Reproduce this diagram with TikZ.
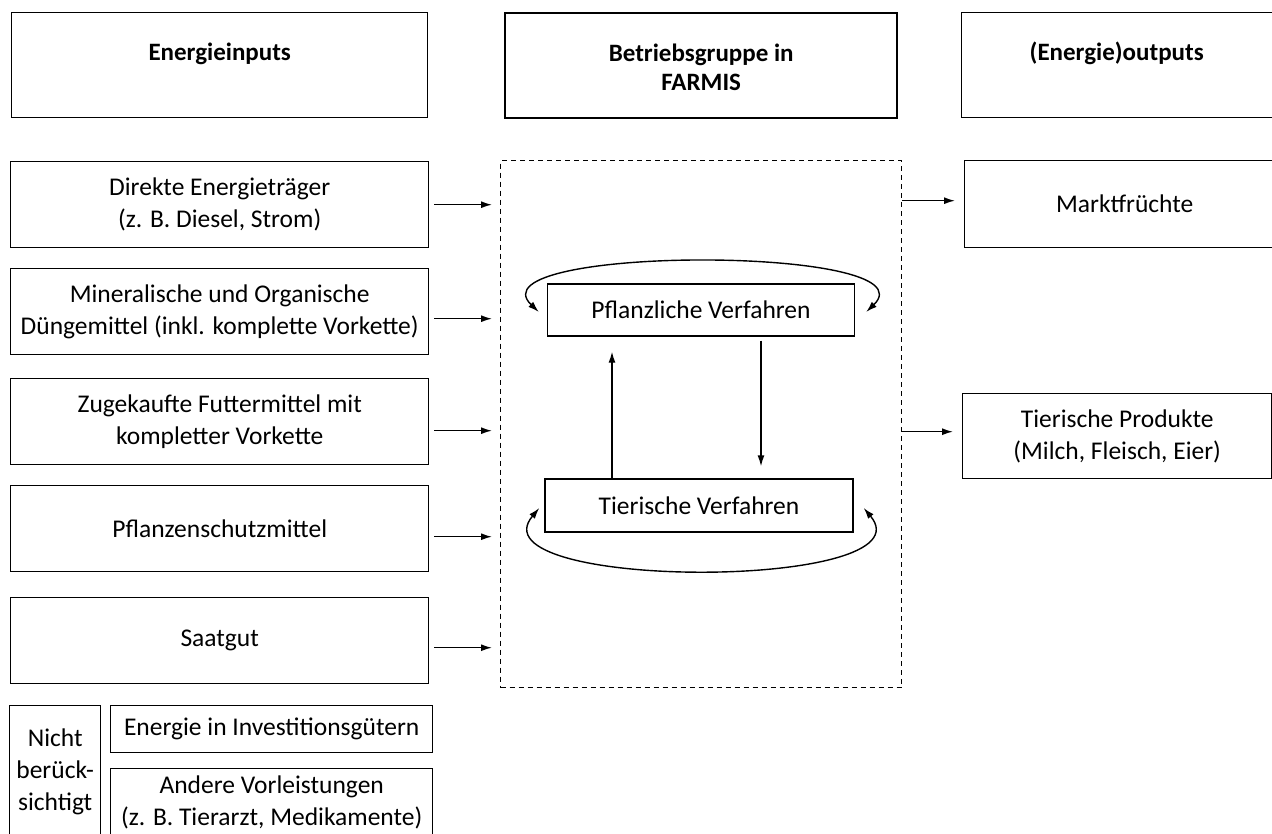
\documentclass[tikz,border=0pt]{standalone}
\usepackage{fontspec}
\setmainfont{Carlito}
\usetikzlibrary{arrows.meta,positioning,calc}

\tikzset{
  box/.style={draw, line width=1.4pt, inner xsep=1pt, inner ysep=0pt, align=center,
    anchor=north west, font=\fontsize{25.5}{32}\selectfont},
  headbox/.style={box, font=\fontsize{25}{29}\selectfont\bfseries, text height=48pt, text depth=57pt},
  inbox/.style={box, minimum width=418pt, minimum height=86pt},
  procbox/.style={draw, line width=1.4pt, inner sep=0pt, minimum width=307pt, minimum height=52pt,
    font=\fontsize{25.5}{32}\selectfont},
  arr/.style={-{Latex[length=11pt,width=7pt]}, line width=1.4pt},
  twoarr/.style={{Latex[length=11pt,width=7pt]}-{Latex[length=11pt,width=7pt]}, line width=1.4pt},
}

\begin{document}
\begin{tikzpicture}[x=1pt, y=-1pt]
    \useasboundingbox (0,0) rectangle (1272,834);
    % top row
    \node[headbox, minimum width=416pt] (hin) at (11,12) {Energieinputs};
    \node[headbox, minimum width=392pt, line width=2.4pt, text height=77pt, text depth=28pt] (hmid) at (504,12) {Betriebsgruppe in\\FARMIS};
    \node[headbox, minimum width=330pt, text width=300pt] (hout) at (961,12) {\hspace*{-20pt}(Energie)outputs};

    % inputs on the left
    \foreach \y/\txt [count=\i] in {161/{Direkte Energieträger\\(z. B. Diesel, Strom)},
        268/{Mineralische und Organische\\Düngemittel (inkl. komplette Vorkette)},
        378/{Zugekaufte Futtermittel mit\\kompletter Vorkette},
        485/Pflanzenschutzmittel, 597/Saatgut}{
        \node[inbox] (in\i) at (10,\y) {\txt};
    }

    % the farm group
    \node[draw, dash pattern=on 5pt off 4pt, line width=1.3pt, minimum width=401pt, minimum height=527pt,
      anchor=north west, inner sep=0pt] (fbox) at (500,160) {};
    \node[procbox] (pv) at (701,310) {Pflanzliche Verfahren};
    \node[procbox, minimum width=308pt, minimum height=53pt] (tv) at (699,505.5) {Tierische Verfahren};

    % outputs on the right
    \node[box, minimum width=330pt, minimum height=87pt, text width=300pt] (out1) at (964,160) {\hspace*{-10pt}Marktfrüchte};
    \node[box, minimum width=309pt, minimum height=85pt] (out2) at (962,393) {Tierische Produkte\\(Milch, Fleisch, Eier)};

    % not counted
    \node[box, minimum width=91pt, minimum height=133pt] (nicht) at (9,705) {Nicht\\berück-\\sichtigt};
    \node[box, minimum width=322pt, minimum height=47pt] (inv) at (110,705) {Energie in Investitionsgütern};
    \node[box, minimum width=322pt, minimum height=68pt] (vor) at (110,768) {Andere Vorleistungen\\(z. B. Tierarzt, Medikamente)};

    % the arrow sits a bit below the middle of the box
    \foreach \i/\d in {1/0,2/7,3/9,4/8,5/7}{
        \draw[arr, shorten <=5pt, shorten >=8pt] ([yshift=-\d pt]in\i.east) -- ([yshift=-\d pt]in\i.east -| fbox.west);
    }
    \draw[arr, shorten >=9pt] ([yshift=3.5pt]out1.west -| fbox.east) -- ([yshift=3.5pt]out1.west);
    \draw[arr, shorten >=9pt] ([yshift=4.5pt]out2.west -| fbox.east) -- ([yshift=4.5pt]out2.west);

    \draw[arr, shorten >=15pt] ([xshift=-87pt]tv.north) -- ([xshift=-87pt]tv.north |- pv.south);
    \draw[arr, shorten <=4pt, shorten >=12pt] ([xshift=60pt]pv.south) -- ([xshift=60pt]pv.south |- tv.north);

    \draw[twoarr] ([xshift=-8pt,yshift=-2pt]pv.west) .. controls +(-70,-67) and +(70,-67) .. ([xshift=11pt,yshift=-2pt]pv.east);
    \draw[twoarr] ([xshift=-5pt,yshift=-2.5pt]tv.west) .. controls +(-70,83) and +(70,83) .. ([xshift=10pt,yshift=-2.5pt]tv.east);
\end{tikzpicture}
\end{document}
